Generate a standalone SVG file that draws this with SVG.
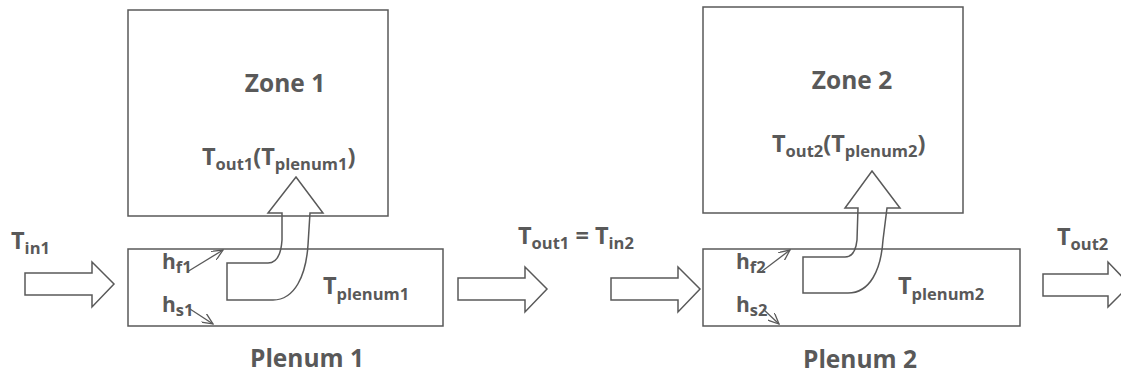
<svg xmlns="http://www.w3.org/2000/svg" width="1121" height="374" viewBox="0 0 1121 374">
<style>
.box{fill:none;stroke:#595959;stroke-width:1.5}
.blk{fill:#fff;stroke:#595959;stroke-width:1.5;stroke-linejoin:miter}
.cur{fill:none;stroke:#595959;stroke-width:1.5}
.thin{fill:none;stroke:#595959;stroke-width:1.3}
text{font-family:"Open Sans","Liberation Sans",sans-serif;font-weight:bold;fill:#595959}
.big{font-size:24.5px}
.lab{font-size:23.5px}
.hl{font-size:21px}
.sub{font-size:16.5px}
</style>
<defs>
<marker id="open" viewBox="0 0 12 10" refX="11" refY="5" markerWidth="12" markerHeight="10" markerUnits="userSpaceOnUse" orient="auto">
<path d="M0,0 L11,5 L0,10" fill="none" stroke="#595959" stroke-width="1.3"/>
</marker>
</defs>
<g id="zone1">
<rect class="box" x="128" y="10" width="260" height="206"/>
<text class="big" x="285" y="92" text-anchor="middle">Zone 1</text>
<text class="lab" x="202" y="165">T<tspan class="sub" dy="5">out1</tspan><tspan dy="-5">(T</tspan><tspan class="sub" dy="5">plenum1</tspan><tspan dy="-5">)</tspan></text>
</g>
<g id="zone2">
<rect class="box" x="703" y="7" width="260" height="206"/>
<text class="big" x="852" y="89" text-anchor="middle">Zone 2</text>
<text class="lab" x="772" y="152">T<tspan class="sub" dy="5">out2</tspan><tspan dy="-5">(T</tspan><tspan class="sub" dy="5">plenum2</tspan><tspan dy="-5">)</tspan></text>
</g>
<g id="plenum1">
<rect class="box" x="128" y="249" width="315" height="77"/>
<text class="lab" x="323" y="294">T<tspan class="sub" dy="6">plenum1</tspan></text>
<text class="hl" x="162" y="269">h<tspan class="sub" dy="4">f1</tspan></text>
<text class="hl" x="162" y="312">h<tspan class="sub" dy="4">s1</tspan></text>
<text class="big" x="307" y="367" text-anchor="middle">Plenum 1</text>
</g>
<g id="plenum2">
<rect class="box" x="703" y="249" width="317" height="77"/>
<text class="lab" x="898" y="294">T<tspan class="sub" dy="6">plenum2</tspan></text>
<text class="hl" x="736" y="269">h<tspan class="sub" dy="4">f2</tspan></text>
<text class="hl" x="736" y="312">h<tspan class="sub" dy="4">s2</tspan></text>
<text class="big" x="860" y="368" text-anchor="middle">Plenum 2</text>
</g>
<g id="labels">
<text class="lab" x="11" y="249">T<tspan class="sub" dy="5">in1</tspan></text>
<text class="lab" x="518" y="244">T<tspan class="sub" dy="5">out1</tspan><tspan dy="-5"> = T</tspan><tspan class="sub" dy="5">in2</tspan></text>
<text class="lab" x="1057" y="245">T<tspan class="sub" dy="5">out2</tspan></text>
</g>
<g id="connectors">
<path class="blk" d="M25,273 H92 V262 L114,284 L92,307 V295 H25 Z"/>
<path class="blk" d="M458,278 H525 V267 L547,289 L525,312 V300 H458 Z"/>
<path class="blk" d="M611,278 H678 V267 L700,289 L678,312 V300 H611 Z"/>
<path class="blk" d="M1043,274 H1108 V262 L1130,285 L1108,307 V296 H1043 Z"/>
<path class="cur" d="M296,177 L323,213 L310,213 L308,245 C306,275 295,300 273,300 L227,300 L227,263 L268,263 C277,263 281,255 282,240 L282,213 L268,213 Z"/>
<path class="cur" d="M872,171 L900,208 L887,208 L883,240 C881,270 870,293 848,293 L803,293 L803,257 L845,257 C853,257 856,250 857,240 L858,208 L845,208 Z"/>
<line class="thin" x1="187" y1="272" x2="223" y2="250" marker-end="url(#open)"/>
<line class="thin" x1="190" y1="309" x2="213" y2="324" marker-end="url(#open)"/>
<line class="thin" x1="761" y1="272" x2="790" y2="250" marker-end="url(#open)"/>
<line class="thin" x1="763" y1="309" x2="779" y2="324" marker-end="url(#open)"/>
</g>
</svg>
